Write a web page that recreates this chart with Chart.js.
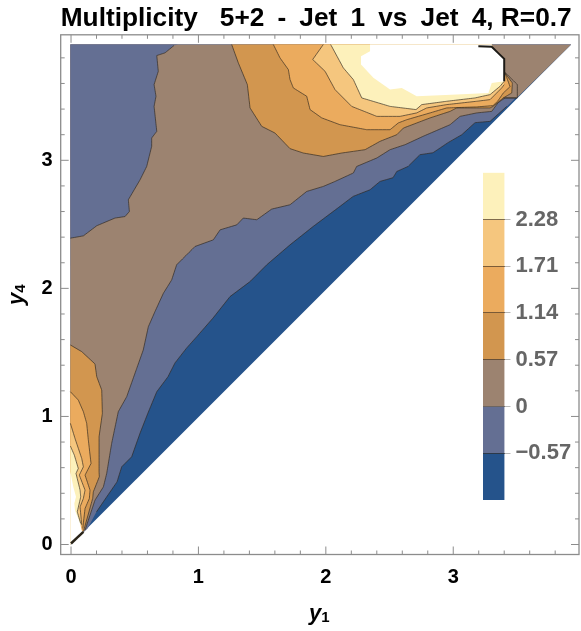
<!DOCTYPE html>
<html>
<head>
<meta charset="utf-8">
<title>Multiplicity 5+2 - Jet 1 vs Jet 4</title>
<script src="https://cdn.jsdelivr.net/npm/chart.js@4/dist/chart.umd.min.js"></script>
<style>
html, body { margin: 0; padding: 0; background: #fff; }
#wrap { position: relative; width: 581px; height: 631px; overflow: hidden; }
canvas { position: absolute; }
</style>
</head>
<body>
<div id="wrap">
<canvas id="plot" width="581" height="631" style="left:0;top:0;width:581px;height:631px"></canvas>
<canvas id="bar" width="111" height="370" style="left:470px;top:150px;width:111px;height:370px"></canvas>
</div>
<script>
// contours, each point is [y1, y4]
var blueEdge = [[0.20,0.255],[0.28,0.372],[0.361,0.489],[0.398,0.607],[0.476,0.685],[0.542,0.870],[0.604,1.027],[0.673,1.193],[0.761,1.310],[0.816,1.418],[0.908,1.535],[0.987,1.623],[1.115,1.769],[1.248,1.936],[1.405,2.053],[1.536,2.184],[1.719,2.340],[1.900,2.483],[2.096,2.629],[2.214,2.718],[2.347,2.770],[2.425,2.835],[2.527,2.864],[2.557,2.913],[2.645,2.952],[2.739,3.044],[2.841,3.059],[2.959,3.138],[3.067,3.200],[3.171,3.294],[3.289,3.304],[3.420,3.421]];
var zeroEdge = [[0.11,0.112],[0.188,0.346],[0.254,0.450],[0.280,0.555],[0.319,0.790],[0.371,1.037],[0.437,1.154],[0.516,1.376],[0.567,1.519],[0.607,1.701],[0.659,1.819],[0.725,1.962],[0.790,2.066],[0.829,2.184],[0.973,2.327],[1.117,2.379],[1.170,2.457],[1.301,2.496],[1.352,2.549],[1.458,2.536],[1.575,2.619],[1.719,2.653],[1.850,2.757],[1.980,2.796],[2.072,2.835],[2.216,2.901],[2.242,2.952],[2.400,3.018],[2.504,3.083],[2.622,3.122],[2.763,3.187],[2.975,3.278],[3.053,3.343],[3.184,3.370],[3.302,3.382],[3.352,3.450],[3.407,3.487],[3.498,3.487]];
var zeroEdgeLeft = [[-0.005,2.392],[0.097,2.410],[0.202,2.489],[0.345,2.549],[0.424,2.561],[0.458,2.600],[0.450,2.692],[0.542,2.848],[0.594,2.952],[0.633,3.109],[0.633,3.174],[0.673,3.226],[0.652,3.421],[0.667,3.500],[0.652,3.591],[0.685,3.695],[0.673,3.818],[0.738,3.839],[0.808,3.896]];

var topEdge057 = [[1.261,3.904],[1.313,3.761],[1.384,3.591],[1.405,3.409],[1.497,3.265],[1.601,3.213],[1.719,3.091],[1.823,3.057],[1.980,3.030],[2.125,3.057],[2.308,3.083],[2.425,3.148],[2.557,3.200],[2.609,3.252],[2.818,3.331],[2.975,3.382],[3.027,3.409],[3.289,3.409],[3.312,3.421],[3.393,3.487],[3.459,3.526],[3.464,3.604],[3.406,3.682]];
var topEdge114 = [[1.588,3.904],[1.640,3.800],[1.706,3.708],[1.719,3.630],[1.745,3.565],[1.850,3.500],[1.876,3.396],[1.968,3.331],[2.111,3.278],[2.321,3.239],[2.504,3.239],[2.569,3.292],[2.635,3.317],[2.818,3.370],[2.949,3.409],[3.184,3.417],[3.312,3.427],[3.349,3.462],[3.393,3.526],[3.446,3.575],[3.406,3.682]];
var topEdge171 = [[1.980,3.904],[1.897,3.787],[1.994,3.695],[2.072,3.552],[2.203,3.421],[2.400,3.343],[2.582,3.343],[2.713,3.370],[2.792,3.409],[2.949,3.435],[3.184,3.461],[3.289,3.474],[3.380,3.565],[3.400,3.591]];
var topEdge228 = [[2.038,3.904],[2.137,3.722],[2.216,3.630],[2.282,3.487],[2.504,3.421],[2.708,3.396],[2.753,3.435],[2.949,3.461],[3.171,3.487],[3.289,3.513],[3.367,3.578],[3.400,3.617]];
var topOuterLine = [[3.393,3.487],[3.503,3.487],[3.503,3.591],[3.406,3.687]];
var topBlankEdge = [[2.347,3.904],[2.347,3.852],[2.276,3.813],[2.276,3.748],[2.373,3.644],[2.504,3.552],[2.596,3.565],[2.713,3.500],[3.027,3.513],[3.276,3.526],[3.302,3.604],[3.400,3.617]];
var topThickLine = [[3.197,3.891],[3.302,3.886],[3.400,3.792],[3.400,3.617]];

var lowEdge057 = [[-0.005,1.558],[0.084,1.506],[0.188,1.410],[0.202,1.310],[0.241,1.206],[0.246,1.024],[0.220,0.841],[0.220,0.568],[0.222,0.529],[0.175,0.411],[0.170,0.360],[0.097,0.099]];
var lowEdge114 = [[-0.005,1.193],[0.057,1.128],[0.097,1.037],[0.123,0.946],[0.136,0.815],[0.157,0.633],[0.110,0.542],[0.149,0.425],[0.144,0.360],[0.110,0.281],[0.092,0.125]];
var lowEdge171 = [[-0.005,0.946],[0.031,0.829],[0.084,0.672],[0.097,0.607],[0.065,0.542],[0.110,0.425],[0.097,0.360],[0.071,0.294],[0.084,0.151]];
var lowEdge228 = [[-0.005,0.769],[0.026,0.698],[0.057,0.594],[0.039,0.555],[0.071,0.425],[0.076,0.372],[0.049,0.255],[0.076,0.164]];
var lowBlankEdge = [[-0.005,0.568],[0.018,0.450],[0.039,0.372],[0.026,0.320],[0.031,0.268],[0.071,0.164],[0.084,0.112],[0.097,0.099]];
var lowThickLine = [[0.097,0.099],[0.0,0.008]];

var wholeTriangle = [[0,0],[-0.005,3.904],[3.925,3.904]];

var majorTicks = [0, 1, 2, 3];
var minorTicks = [0.2,0.4,0.6,0.8,1.2,1.4,1.6,1.8,2.2,2.4,2.6,2.8,3.2,3.4,3.6,3.8];
var legendLevels = [-1.14,-0.57,0,0.57,1.14,1.71,2.28,2.85];
var legendLabels = ['\u22120.57','0','0.57','1.14','1.71','2.28'];

var bandColors = ['#25538b','#646f93','#9c8370','#d2964f','#ebab5e','#f5c67e','#fdf1bb'];
var lineColor = 'rgba(45,38,30,0.65)';
var plotFont = 'Liberation Sans';

function pts(list) {
    return list.map(function (p) { return { x: p[0], y: p[1] }; });
}
function area(list, color) {
    return { data: pts(list), showLine: false, polygonColor: color, pointRadius: 0 };
}
function line(list, width, color) {
    // small tension keeps Chart.js off its fast path, that one squashes steep runs
    return { data: pts(list), showLine: true, fill: false, borderColor: color || lineColor, borderWidth: width || 1, pointRadius: 0, tension: 0.001 };
}

var topClose = [[3.302,3.904]];
var lowClose = [[-0.005,0]];
var datasets = [
    area(wholeTriangle, bandColors[0]),
    area([[0.13,0.125]].concat(blueEdge, [[3.925,3.904],[-0.005,3.904],[-0.005,0]]), bandColors[1]),
    area(zeroEdge.concat([[3.925,3.904],[-0.005,3.904],[-0.005,0]]), bandColors[2]),
    area(zeroEdgeLeft.concat([[0.84,3.904],[-0.005,3.904]]), bandColors[1]),
    area(topEdge057.concat(topClose), bandColors[3]),
    area(lowEdge057.concat(lowClose), bandColors[3]),
    area(topEdge114.concat(topClose), bandColors[4]),
    area(lowEdge114.concat(lowClose), bandColors[4]),
    area(topEdge171.concat(topClose), bandColors[5]),
    area(lowEdge171.concat(lowClose), bandColors[5]),
    area(topEdge228.concat(topClose), bandColors[6]),
    area(lowEdge228.concat(lowClose), bandColors[6]),
    area(topBlankEdge.concat([[3.400,3.792],[3.302,3.886],[3.302,3.904]]), '#ffffff'),
    area(lowBlankEdge.concat(lowClose), '#ffffff'),
    line(blueEdge), line(zeroEdge), line(zeroEdgeLeft),
    line(topEdge057), line(topEdge114), line(topEdge171), line(topEdge228), line(topOuterLine),
    line(lowEdge057), line(lowEdge114), line(lowEdge171), line(lowEdge228),
    line(topThickLine, 2, '#1c1a16'), line(lowThickLine, 2.5, '#2a2418')
];
// later entries go on top
datasets.forEach(function (d, i) { d.order = datasets.length - i; });

// the line element can not fill a closed outline, so fill from the points the scales placed
var polygonFill = {
    id: 'polygonFill',
    beforeDatasetDraw: function (chart, args) {
        var color = chart.data.datasets[args.index].polygonColor;
        if (!color) return;
        var c = chart.ctx, p = args.meta.data;
        c.save();
        c.fillStyle = color;
        c.beginPath();
        p.forEach(function (el, i) {
            if (i === 0) c.moveTo(el.x, el.y); else c.lineTo(el.x, el.y);
        });
        c.closePath();
        c.fill();
        c.restore();
    }
};

function subLabel(c, x, y, sym, sub) {
    c.textBaseline = 'alphabetic';
    c.textAlign = 'left';
    c.font = 'italic bold 22px "' + plotFont + '"';
    c.fillText(sym, x, y);
    var w = c.measureText(sym).width;
    c.font = 'bold 15px "' + plotFont + '"';
    c.fillText(sub, x + w, y + 2);
}

// inward ticks on all four sides, the frame and the axis names
var frameTicks = {
    id: 'frameTicks',
    afterDraw: function (chart) {
        var a = chart.chartArea, c = chart.ctx;
        var sx = chart.scales.x, sy = chart.scales.y;
        c.save();
        c.strokeStyle = '#8c8c8c';
        c.lineWidth = 1.3;
        c.strokeRect(a.left, a.top, a.right - a.left, a.bottom - a.top);
        c.lineWidth = 1;
        function mark(list, len) {
            list.forEach(function (v) {
                var px = sx.getPixelForValue(v), py = sy.getPixelForValue(v);
                c.beginPath();
                c.moveTo(px, a.bottom); c.lineTo(px, a.bottom - len);
                c.moveTo(px, a.top); c.lineTo(px, a.top + len);
                c.moveTo(a.left, py); c.lineTo(a.left + len, py);
                c.moveTo(a.right, py); c.lineTo(a.right - len, py);
                c.stroke();
            });
        }
        mark(majorTicks, 8);
        mark(minorTicks, 4);
        c.fillStyle = '#000';
        subLabel(c, 309, 620, 'y', '1');
        c.translate(23, 305);
        c.rotate(-Math.PI / 2);
        subLabel(c, 0, 0, 'y', '4');
        c.restore();
    }
};

new Chart(document.getElementById('plot').getContext('2d'), {
    type: 'scatter',
    data: { datasets: datasets },
    plugins: [polygonFill, frameTicks],
    options: {
        responsive: false,
        animation: false,
        devicePixelRatio: 1,
        layout: { padding: { right: 2, top: 0, left: 0, bottom: 0 } },
        plugins: {
            legend: { display: false },
            tooltip: { enabled: false },
            title: {
                display: true,
                fullSize: false,
                text: 'Multiplicity   5+2\u2002-\u2002Jet\u20021\u2002vs\u2002Jet\u20024, R=0.7 ',
                color: '#000',
                font: { family: plotFont, size: 26.5, weight: 'bold' },
                padding: { top: 3, bottom: 0 }
            }
        },
        scales: {
            x: {
                type: 'linear', min: -0.081, max: 3.987,
                afterBuildTicks: function (s) { s.ticks = majorTicks.map(function (v) { return { value: v }; }); },
                afterFit: function (s) { s.height = 76.5; },
                grid: { display: false, drawTicks: false },
                border: { display: false },
                ticks: { color: '#000', padding: 11, maxRotation: 0, font: { family: plotFont, size: 20, weight: 'bold' } }
            },
            y: {
                type: 'linear', min: -0.078, max: 3.98,
                afterBuildTicks: function (s) { s.ticks = majorTicks.map(function (v) { return { value: v }; }); },
                afterFit: function (s) { s.width = 60.7; },
                grid: { display: false, drawTicks: false },
                border: { display: false },
                ticks: { color: '#000', padding: 8, font: { family: plotFont, size: 20, weight: 'bold' } }
            }
        }
    }
});

// colour bar
var barSets = [];
for (var i = 0; i < bandColors.length; i++) {
    barSets.push({ data: [[legendLevels[i], legendLevels[i + 1]]], backgroundColor: bandColors[i], barPercentage: 1, categoryPercentage: 1, borderWidth: 0 });
}
new Chart(document.getElementById('bar').getContext('2d'), {
    type: 'bar',
    data: { labels: [''], datasets: barSets },
    options: {
        responsive: false,
        animation: false,
        devicePixelRatio: 1,
        layout: { padding: { left: 13, top: 22.7, bottom: 20, right: 0 } },
        plugins: { legend: { display: false }, tooltip: { enabled: false } },
        scales: {
            x: { stacked: true, display: false },
            y: {
                position: 'right',
                min: legendLevels[0], max: legendLevels[legendLevels.length - 1],
                afterBuildTicks: function (s) { s.ticks = legendLevels.slice(1, -1).map(function (v) { return { value: v }; }); },
                afterFit: function (s) { s.width = 76.5; },
                grid: { color: 'rgba(50,40,30,0.6)', tickColor: '#b8b8b8', tickLength: 6, z: 1 },
                border: { display: false },
                ticks: {
                    color: '#666',
                    padding: 5,
                    font: { family: plotFont, size: 22, weight: 'bold' },
                    callback: function (v, i) { return legendLabels[i]; }
                }
            }
        }
    }
});
</script>
</body>
</html>
